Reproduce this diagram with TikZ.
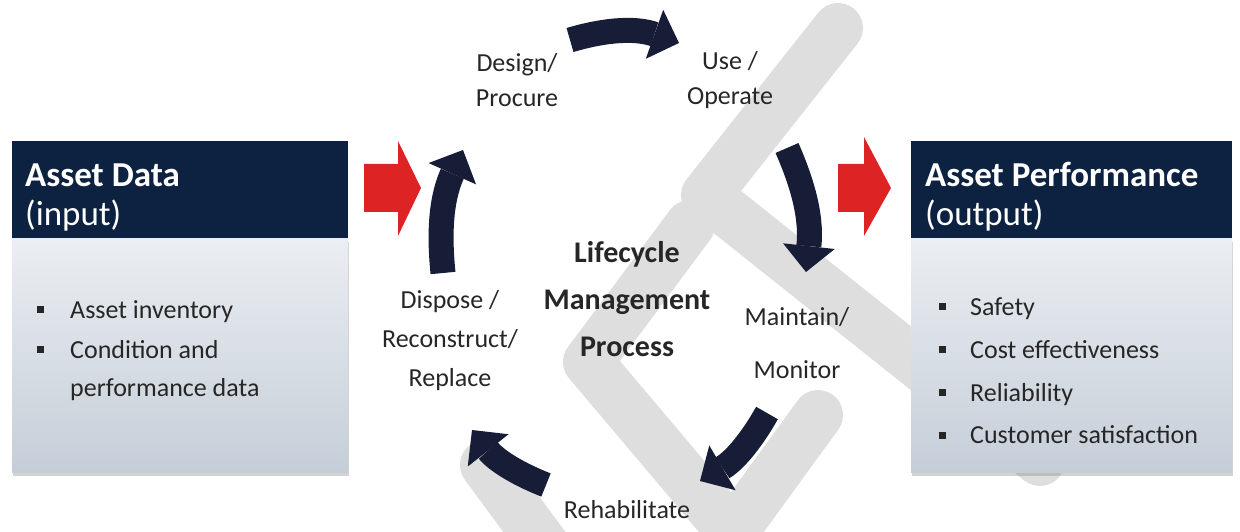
\documentclass[tikz,border=0pt]{standalone}
\usepackage{fontspec}
\setmainfont{Carlito}
\usetikzlibrary{arrows.meta,shadows}
\definecolor{myheadcolor}{HTML}{0D2240}
\definecolor{mycyclecolor}{HTML}{171D36}
\definecolor{myredcolor}{HTML}{DD2323}
\definecolor{mybodytop}{HTML}{EBEEF2}
\definecolor{mybodybottom}{HTML}{C5CED8}
\definecolor{mymarkcolor}{HTML}{DEDEDE}
\definecolor{mytextcolor}{HTML}{262626}
\tikzset{
  band/.style={draw=mymarkcolor, line width=50pt, line cap=round, line join=round},
  headbox/.style={fill=myheadcolor, inner sep=0pt, anchor=north west},
  bodybox/.style={top color=mybodytop, bottom color=mybodybottom, inner sep=0pt, anchor=north west,
    drop shadow={shadow xshift=1pt, shadow yshift=-4pt, opacity=0.35}},
  headtext/.style={text=white, inner sep=0pt, anchor=base west, font=\fontsize{35}{42}\selectfont},
  listtext/.style={text=mytextcolor, inner sep=0pt, anchor=base west},
  steplabel/.style={text=mytextcolor, align=center, inner sep=0pt},
  cyclearrow/.style={draw=mycyclecolor, line width=25pt,
    -{Triangle[width=52pt, length=26pt, line width=0pt]}},
  redarrow/.style={fill=myredcolor},
}
\newcommand{\bsq}{\rule[5pt]{7pt}{7pt}}

\begin{document}
\begin{tikzpicture}[x=1pt, y=1pt]%
\useasboundingbox (0,0) rectangle (1240,531);%
% grey mark in the background
\begin{scope}
\clip (0,0) rectangle (1240,531);
\draw[band] (838,503) -- (706,336) -- (1040,70);%
\draw[band] (690,306) -- (588,169) -- (790,-70);%
\draw[band] (818,116) -- (690,-60);%
\draw[band] (485,66) -- (600,-90);%
\end{scope}
% input box
\node[bodybox, minimum width=336pt, minimum height=234pt] (inbody) at (12,293) {};%
\node[headbox, minimum width=336pt, minimum height=97pt] (inhead) at (12,390) {};%
\node[headtext] (intitle) at (25,344) {\textbf{Asset Data}};%
\node[headtext] (insub) at (25,305) {(input)};%
\node[listtext] (inlist) at (37,213) {\fontsize{26}{38}\selectfont
  \begin{tabular}[t]{@{}l@{\hspace{26pt}}l@{}}
  \bsq & Asset inventory\\[2pt]
  \bsq & Condition and\\
       & performance data
  \end{tabular}};%
% output box
\node[bodybox, minimum width=321pt, minimum height=234pt] (outbody) at (911,293) {};%
\node[headbox, minimum width=321pt, minimum height=97pt] (outhead) at (911,390) {};%
\node[headtext] (outtitle) at (925,344) {\textbf{Asset Performance}};%
\node[headtext] (outsub) at (925,305) {(output)};%
\node[listtext] (outlist) at (939,216) {\fontsize{26}{43}\selectfont
  \begin{tabular}[t]{@{}l@{\hspace{24pt}}l@{}}
  \bsq & Safety\\
  \bsq & Cost effectiveness\\
  \bsq & Reliability\\
  \bsq & Customer satisfaction
  \end{tabular}};%
% red block arrows in and out
\fill[redarrow] (364,367) -- (398,367) -- (398,390) -- (421,343) -- (398,295) -- (398,319) -- (364,319) -- cycle;%
\fill[redarrow] (838,367) -- (864,367) -- (864,394) -- (891,343) -- (864,295) -- (864,319) -- (838,319) -- cycle;%
% lifecycle steps
\node[steplabel, font=\fontsize{30}{47}\selectfont\bfseries] (lcm) at (627,232) {Lifecycle\\Management\\Process};%
\node[steplabel, font=\fontsize{26}{35}\selectfont] (design) at (517,451) {Design/\\Procure};%
\node[steplabel, font=\fontsize{26}{35}\selectfont] (use) at (730,451) {Use /\\Operate};%
\node[steplabel, font=\fontsize{26}{53}\selectfont] (maintain) at (797,188) {Maintain/\\Monitor};%
\node[steplabel, font=\fontsize{26}{39}\selectfont] (rehab) at (627,21) {Rehabilitate};%
\node[steplabel, font=\fontsize{26}{39}\selectfont] (dispose) at (450,190) {Dispose /\\Reconstruct/\\Replace};%
% arrow ends round the cycle
\coordinate (d2u-a) at (570,491);%
\coordinate (d2u-b) at (679,488);%
\coordinate (u2m-a) at (787,383);%
\coordinate (u2m-b) at (806,259);%
\coordinate (m2r-a) at (767,118);%
\coordinate (m2r-b) at (700,50);%
\coordinate (r2d-a) at (546,46);%
\coordinate (r2d-b) at (472,101);%
\coordinate (d2d-a) at (443,258);%
\coordinate (d2d-b) at (463,381);%
\draw[cyclearrow] (d2u-a) to[bend left=18] (d2u-b);%
\draw[cyclearrow] (u2m-a) to[bend left=15] (u2m-b);%
\draw[cyclearrow] (m2r-a) to[bend left=15] (m2r-b);%
\draw[cyclearrow] (r2d-a) to[bend left=15] (r2d-b);%
\draw[cyclearrow] (d2d-a) to[bend left=15] (d2d-b);%
\end{tikzpicture}
\end{document}
